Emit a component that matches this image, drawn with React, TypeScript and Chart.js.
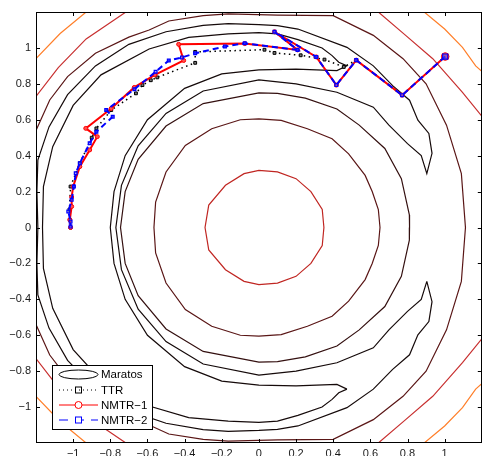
import React, { useEffect, useRef } from 'react';
import { Chart, registerables } from 'chart.js';

Chart.register(...registerables);

type P = [number, number];

// ---- contour lines of the Maratos merit function ----
const contourLevel1: P[] = [
  [0.35, 0], [0.341, -0.1], [0.28, -0.2], [0.2, -0.272], [0.1, -0.31], [0.0, -0.318], [-0.08, -0.3],
  [-0.18, -0.235], [-0.27, -0.125], [-0.29, 0], [-0.27, 0.125], [-0.18, 0.235], [-0.08, 0.3], [0.0, 0.318],
  [0.1, 0.31], [0.2, 0.272], [0.28, 0.2], [0.341, 0.1], [0.35, 0],
];
const contourLevel2: P[] = [
  [0.652, 0], [0.643, -0.1], [0.61, -0.2], [0.572, -0.29], [0.483, -0.41], [0.394, -0.494], [0.261, -0.55],
  [0.12, -0.596], [0.0, -0.605], [-0.1, -0.6], [-0.254, -0.55], [-0.396, -0.457], [-0.5, -0.309],
  [-0.556, -0.142], [-0.565, 0], [-0.556, 0.142], [-0.5, 0.309], [-0.396, 0.457], [-0.254, 0.55], [-0.1, 0.6],
  [0.0, 0.605], [0.12, 0.596], [0.261, 0.55], [0.394, 0.494], [0.483, 0.41], [0.572, 0.29], [0.61, 0.2],
  [0.643, 0.1], [0.652, 0],
];
const contourLevel3: P[] = [
  [0.811, 0], [0.81, -0.07], [0.767, -0.272], [0.678, -0.44], [0.54, -0.57], [0.42, -0.66], [0.25, -0.72],
  [0.1, -0.747], [0.0, -0.75], [-0.3, -0.69], [-0.5, -0.565], [-0.65, -0.38], [-0.72, -0.2], [-0.745, 0],
  [-0.72, 0.2], [-0.65, 0.38], [-0.5, 0.565], [-0.3, 0.69], [0.0, 0.75], [0.1, 0.747], [0.25, 0.72],
  [0.42, 0.66], [0.54, 0.57], [0.678, 0.44], [0.767, 0.272], [0.81, 0.07], [0.811, 0],
];
const contourLevel5: P[] = [
  [0.474, -0.9], [0.42, -0.874], [0.2, -0.882], [0.0, -0.878], [-0.2, -0.855], [-0.4, -0.775], [-0.6, -0.6],
  [-0.72, -0.4], [-0.78, -0.2], [-0.8, 0], [-0.78, 0.2], [-0.72, 0.4], [-0.6, 0.6], [-0.4, 0.775],
  [-0.2, 0.855], [0.0, 0.878], [0.2, 0.882], [0.42, 0.874], [0.474, 0.9], [0.43, 0.92], [0.394, 0.957],
  [0.34, 1.0], [0.21, 1.046], [0.1, 1.078], [0.0, 1.085], [-0.165, 1.078], [-0.378, 1.059], [-0.591, 0.994],
  [-0.85, 0.85], [-1.0, 0.68], [-1.11, 0.45], [-1.16, 0.228], [-1.165, 0], [-1.16, -0.228], [-1.11, -0.45],
  [-1.0, -0.68], [-0.85, -0.85], [-0.591, -0.994], [-0.378, -1.059], [-0.165, -1.078], [0.0, -1.085],
  [0.1, -1.078], [0.21, -1.046], [0.34, -1.0], [0.394, -0.957], [0.43, -0.92], [0.474, -0.9],
];
const contourLevel6: P[] = [
  [0.904, -0.3], [0.874, -0.4], [0.8, -0.467], [0.7, -0.57], [0.616, -0.67], [0.42, -0.753], [0.2, -0.8],
  [0.0, -0.822], [-0.3, -0.76], [-0.5, -0.635], [-0.65, -0.455], [-0.74, -0.235], [-0.77, 0], [-0.74, 0.235],
  [-0.65, 0.455], [-0.5, 0.635], [-0.3, 0.76], [0.0, 0.822], [0.2, 0.8], [0.42, 0.753], [0.616, 0.67],
  [0.7, 0.57], [0.8, 0.467], [0.874, 0.4], [0.904, 0.3], [0.932, 0.413], [0.915, 0.524], [0.856, 0.598],
  [0.811, 0.709], [0.72, 0.79], [0.616, 0.9], [0.474, 1.003], [0.21, 1.105], [0.1, 1.124], [0.0, 1.13],
  [-0.165, 1.135], [-0.3, 1.125], [-0.5, 1.09], [-0.7, 1.02], [-0.88, 0.9], [-1.03, 0.74], [-1.13, 0.56],
  [-1.19, 0.375], [-1.195, 0.2], [-1.19, 0], [-1.195, -0.2], [-1.19, -0.375], [-1.13, -0.56], [-1.03, -0.74],
  [-0.88, -0.9], [-0.7, -1.02], [-0.5, -1.09], [-0.3, -1.125], [-0.165, -1.135], [0.0, -1.13], [0.1, -1.124],
  [0.21, -1.105], [0.474, -1.003], [0.616, -0.9], [0.72, -0.79], [0.811, -0.709], [0.856, -0.598],
  [0.915, -0.524], [0.932, -0.413], [0.904, -0.3],
];
const contourLevel7: P[] = [
  [-1.2, 0.54], [-1.126, 0.71], [-1.03, 0.84], [-0.88, 0.97], [-0.7, 1.06], [-0.591, 1.1], [-0.485, 1.15],
  [-0.3, 1.18], [-0.165, 1.189], [0.1, 1.183], [0.4, 1.18], [0.616, 1.07], [0.776, 0.94], [0.9, 0.8],
  [1.01, 0.57], [1.09, 0.3], [1.112, 0], [1.09, -0.3], [1.01, -0.57], [0.9, -0.8], [0.776, -0.94],
  [0.616, -1.07], [0.4, -1.18], [0.1, -1.183], [-0.165, -1.189], [-0.3, -1.18], [-0.485, -1.15],
  [-0.591, -1.1], [-0.7, -1.06], [-0.88, -0.97], [-1.03, -0.84], [-1.126, -0.71], [-1.2, -0.54],
];
const contourLevel8TopLeft: P[] = [[-1.2, 0.73], [-1.08, 0.89], [-0.93, 1.05], [-0.716, 1.2]];
const contourLevel8TopRight: P[] = [[0.643, 1.2], [0.79, 1.07], [0.936, 0.94], [1.096, 0.753], [1.2, 0.62]];
const contourLevel8BottomRight: P[] = [[0.643, -1.2], [0.79, -1.07], [0.936, -0.94], [1.096, -0.753], [1.2, -0.62]];
const contourLevel8BottomLeft: P[] = [[-1.2, -0.73], [-1.08, -0.89], [-0.93, -1.05], [-0.716, -1.2]];
const contourLevel9TopLeft: P[] = [[-1.2, 0.94], [-1.07, 1.08], [-0.93, 1.2]];
const contourLevel9TopRight: P[] = [[0.89, 1.2], [1.0, 1.105], [1.096, 1.003], [1.167, 0.9], [1.2, 0.87]];
const contourLevel9BottomRight: P[] = [[0.89, -1.2], [1.0, -1.105], [1.096, -1.003], [1.167, -0.9], [1.2, -0.87]];
const contourLevel9BottomLeft: P[] = [[-1.2, -0.94], [-1.07, -1.08], [-0.93, -1.2]];

// ---- iterate paths ----
const ttrPath: P[] = [
  [1.003, 0.952], [0.771, 0.737], [0.524, 0.932], [0.457, 0.894], [0.353, 0.935], [0.225, 0.959],
  [0.084, 0.972], [0.03, 0.99], [-0.343, 0.978], [-0.343, 0.917], [-0.547, 0.836], [-0.582, 0.82],
  [-0.627, 0.793], [-0.662, 0.747], [-0.795, 0.654], [-0.875, 0.552], [-0.9, 0.5], [-0.964, 0.358],
  [-1.014, 0.228], [-1.02, 0.1], [-1.018, 0.043], [-1.014, 0.0],
];
const nmtr1Path: P[] = [
  [1.003, 0.952], [0.771, 0.737], [0.524, 0.932], [0.417, 0.793], [0.309, 0.95], [0.084, 1.09],
  [0.208, 0.989], [-0.076, 1.024], [-0.432, 1.02], [-0.405, 0.93], [-0.56, 0.85], [-0.671, 0.78],
  [-0.795, 0.663], [-0.932, 0.552], [-0.87, 0.506], [-0.911, 0.432], [-0.964, 0.339], [-1.0, 0.228],
  [-1.008, 0.17], [-1.008, 0.117], [-1.018, 0.043], [-1.014, 0.0],
];
const nmtr2Path: P[] = [
  [1.003, 0.952], [0.771, 0.737], [0.524, 0.932], [0.417, 0.793], [0.309, 0.95], [0.084, 1.09],
  [0.208, 0.989], [-0.076, 1.026], [-0.183, 1.008], [-0.343, 0.97], [-0.414, 0.947], [-0.485, 0.93],
  [-0.556, 0.867], [-0.67, 0.77], [-0.822, 0.654], [-0.787, 0.617], [-0.875, 0.533], [-0.911, 0.469],
  [-0.964, 0.358], [-0.986, 0.302], [-0.996, 0.228], [-1.008, 0.154], [-1.026, 0.089], [-1.014, 0.033],
  [-1.014, 0.005],
];

const tickValues = [-1, -0.8, -0.6, -0.4, -0.2, 0, 0.2, 0.4, 0.6, 0.8, 1];
const legendLabels = ['Maratos', 'TTR', 'NMTR\u22121', 'NMTR\u22122'];

const FONT = "'Liberation Sans', Arial, Helvetica, sans-serif";

const fmt = (v: number) => (v < 0 ? '\u2212' : '') + String(Math.abs(Math.round(v * 10) / 10));

export default function App() {
  const ref = useRef<HTMLCanvasElement>(null);

  useEffect(() => {
    if (!ref.current) return;
    const toPts = (a: P[]) => a.map(([x, y]) => ({ x, y }));
    const contour = (a: P[], color: string) => ({
      data: toPts(a),
      showLine: true,
      borderColor: color,
      backgroundColor: color,
      borderWidth: 1.2,
      pointRadius: 0,
      pointHoverRadius: 0,
      fill: false,
      tension: 0,
      order: 10,
    });

    const C1 = '#c02622';
    const C2 = '#5a1616';
    const C3 = '#341010';
    const CK = '#150a0a';
    const C8 = '#c83030';
    const C9 = '#ff7f2a';

    const boxPlugin = {
      id: 'boxTicks',
      afterDatasetsDraw(chart: any) {
        const { ctx, chartArea: a, scales } = chart;
        ctx.save();
        ctx.strokeStyle = '#000';
        ctx.lineWidth = 1;
        ctx.strokeRect(Math.round(a.left) + 0.5, Math.round(a.top) + 0.5, Math.round(a.right - a.left) - 1, Math.round(a.bottom - a.top) - 1);
        const tl = 4;
        ctx.beginPath();
        for (const v of tickValues) {
          const px = Math.round(scales.x.getPixelForValue(v)) + 0.5;
          ctx.moveTo(px, a.bottom);
          ctx.lineTo(px, a.bottom - tl);
          ctx.moveTo(px, a.top);
          ctx.lineTo(px, a.top + tl);
          const py = Math.round(scales.y.getPixelForValue(v)) + 0.5;
          ctx.moveTo(a.left, py);
          ctx.lineTo(a.left + tl, py);
          ctx.moveTo(a.right, py);
          ctx.lineTo(a.right - tl, py);
        }
        ctx.stroke();
        ctx.restore();
      },
    };

    const legendPlugin = {
      id: 'insideLegend',
      afterDraw(chart: any) {
        const { ctx, chartArea: a } = chart;
        const left = a.left + 16;
        const top = a.bottom - 78;
        const w = 100;
        const h = 64;
        ctx.save();
        ctx.fillStyle = '#fff';
        ctx.fillRect(left, top, w, h);
        ctx.strokeStyle = '#000';
        ctx.lineWidth = 1;
        ctx.strokeRect(left + 0.5, top + 0.5, w, h);
        const x0 = left + 7;
        const x1 = left + 46;
        const xc = (x0 + x1) / 2;
        const rows = [top + 9.5, top + 25, top + 40, top + 55];
        ctx.font = `11.5px ${FONT}`;
        ctx.textBaseline = 'middle';
        ctx.fillStyle = '#000';
        legendLabels.forEach((t, i) => ctx.fillText(t, left + 49, rows[i] + 0.5));
        // Maratos: contour symbol
        ctx.beginPath();
        ctx.ellipse(xc, rows[0], 19.5, 4.5, 0, 0, Math.PI * 2);
        ctx.strokeStyle = '#000';
        ctx.stroke();
        // TTR
        ctx.setLineDash([1, 3]);
        ctx.beginPath();
        ctx.moveTo(x0, rows[1]);
        ctx.lineTo(x1, rows[1]);
        ctx.stroke();
        ctx.setLineDash([]);
        ctx.strokeRect(xc - 3, rows[1] - 3, 6, 6);
        // NMTR-1
        ctx.strokeStyle = '#ff0000';
        ctx.beginPath();
        ctx.moveTo(x0, rows[2]);
        ctx.lineTo(x1, rows[2]);
        ctx.stroke();
        ctx.beginPath();
        ctx.arc(xc, rows[2], 3.5, 0, Math.PI * 2);
        ctx.fillStyle = '#fff';
        ctx.fill();
        ctx.stroke();
        // NMTR-2
        ctx.strokeStyle = '#0000ff';
        ctx.setLineDash([9, 7]);
        ctx.beginPath();
        ctx.moveTo(x0, rows[3]);
        ctx.lineTo(x1, rows[3]);
        ctx.stroke();
        ctx.setLineDash([]);
        ctx.fillStyle = '#fff';
        ctx.fillRect(xc - 3, rows[3] - 3, 6, 6);
        ctx.strokeRect(xc - 3, rows[3] - 3, 6, 6);
        ctx.restore();
      },
    };

    const axisCommon = (isX: boolean) => ({
      type: 'linear' as const,
      min: -1.2,
      max: 1.2,
      grid: { display: false, drawTicks: false },
      border: { display: false },
      afterBuildTicks: (axis: any) => {
        axis.ticks = tickValues.map((v) => ({ value: v }));
      },
      afterFit: (axis: any) => {
        if (isX) axis.height = 13;
        else axis.width = 36;
      },
      ticks: {
        autoSkip: false,
        maxRotation: 0,
        padding: isX ? 4 : 5,
        color: '#1a1a1a',
        font: { family: FONT, size: 11 },
        callback: (v: any) => fmt(Number(v)),
      },
    });

    const chart = new Chart(ref.current, {
      type: 'scatter',
      data: {
        datasets: [
          contour(contourLevel1, C1),
          contour(contourLevel2, C2),
          contour(contourLevel3, C3),
          contour(contourLevel5, CK),
          contour(contourLevel6, CK),
          contour(contourLevel7, C2),
          contour(contourLevel8TopLeft, C8),
          contour(contourLevel8TopRight, C8),
          contour(contourLevel8BottomRight, C8),
          contour(contourLevel8BottomLeft, C8),
          contour(contourLevel9TopLeft, C9),
          contour(contourLevel9TopRight, C9),
          contour(contourLevel9BottomRight, C9),
          contour(contourLevel9BottomLeft, C9),
          {
            label: 'TTR',
            data: toPts(ttrPath),
            showLine: true,
            borderColor: '#000',
            borderWidth: 1.5,
            borderDash: [1.5, 3.5],
            pointStyle: 'rect',
            pointRadius: 2,
            pointBorderWidth: 1,
            pointBorderColor: '#000',
            pointBackgroundColor: '#777',
            tension: 0,
            order: 3,
          },
          {
            label: 'NMTR-1',
            data: toPts(nmtr1Path),
            showLine: true,
            borderColor: '#ff0000',
            borderWidth: 2,
            pointStyle: 'circle',
            pointRadius: (c: any) => (c.dataIndex === 0 ? 3.8 : 2),
            pointBorderWidth: 1,
            pointBorderColor: '#ff0000',
            pointBackgroundColor: '#ff5050',
            tension: 0,
            order: 2,
          },
          {
            label: 'NMTR-2',
            data: toPts(nmtr2Path),
            showLine: true,
            borderColor: '#0000ff',
            borderWidth: 2,
            borderDash: [6, 4],
            pointStyle: 'rect',
            pointRadius: (c: any) => (c.dataIndex === 0 ? 3.6 : 2),
            pointBorderWidth: 1.2,
            pointBorderColor: '#0000ff',
            pointBackgroundColor: 'rgba(80,80,255,0.5)',
            tension: 0,
            order: 1,
          },
        ] as any,
      },
      options: {
        responsive: false,
        animation: false,
        devicePixelRatio: 1,
        layout: { padding: { top: 12, right: 1, left: 0, bottom: 0 } },
        plugins: { legend: { display: false }, tooltip: { enabled: false } },
        events: [],
        scales: { x: axisCommon(true), y: axisCommon(false) } as any,
      },
      plugins: [boxPlugin, legendPlugin],
    });
    return () => chart.destroy();
  }, []);

  return (
    <div style={{ position: 'absolute', left: 0, top: 0, width: 487, height: 456, background: '#fff' }}>
      <canvas ref={ref} width={487} height={456} style={{ width: 487, height: 456, display: 'block' }} />
    </div>
  );
}
